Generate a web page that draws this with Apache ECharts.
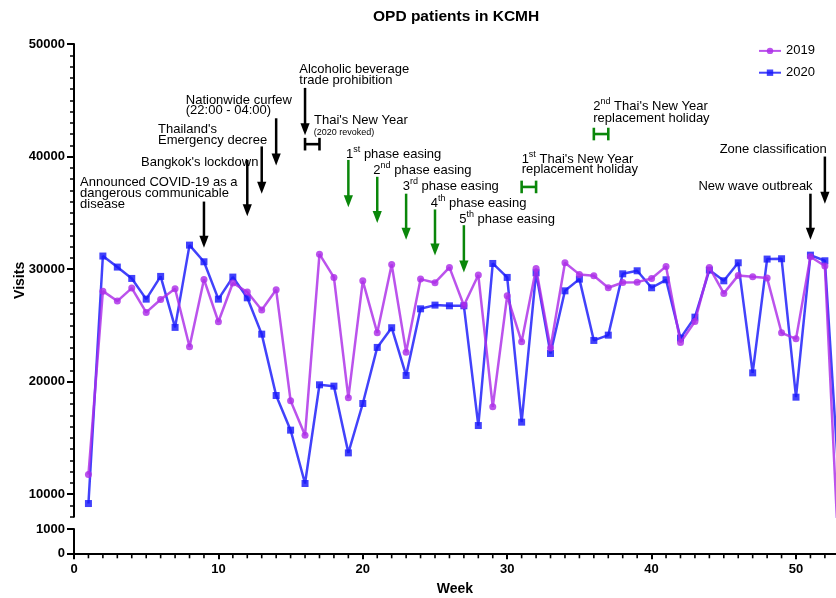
<!DOCTYPE html>
<html><head><meta charset="utf-8">
<script src="https://cdn.jsdelivr.net/npm/echarts@6/dist/echarts.min.js"></script>
<style>html,body{margin:0;padding:0;background:#fff}#c{width:836px;height:598px}</style>
</head><body><div id="c"></div>
<script>
const weeks = [1,2,3,4,5,6,7,8,9,10,11,12,13,14,15,16,17,18,19,20,21,22,23,24,25,26,27,28,29,30,31,32,33,34,35,36,37,38,39,40,41,42,43,44,45,46,47,48,49,50,51,52,53];
const visits2019 = [11750,28040,27160,28310,26150,27300,28250,23100,29080,25320,28760,27960,26360,28160,18300,15240,31330,29260,18560,28960,24340,30410,22620,29110,28790,30150,26770,29470,17760,27630,23540,30060,23000,30560,29530,29410,28340,28810,28840,29170,30240,23480,25350,30150,27840,29440,29320,29200,24340,23800,31100,30270,3300];
const visits2020 = [9170,31160,30180,29170,27330,29350,24820,32130,30650,27330,29290,27450,24220,18770,15690,10950,19720,19600,13670,18060,23040,24790,20550,26470,26800,26740,26740,16100,30500,29260,16400,29670,22500,28070,29110,23660,24130,29580,29850,28340,29050,23870,25730,29910,28960,30560,20780,30890,30920,18620,31240,30740,10500];
const seriesNames = ['2019', '2020'];
const xMajorTicks = [0,10,20,30,40,50];
const xMinorTicks = [1,2,3,4,5,6,7,8,9,11,12,13,14,15,16,17,18,19,21,22,23,24,25,26,27,28,29,31,32,33,34,35,36,37,38,39,41,42,43,44,45,46,47,48,49,51,52];
const yUpperTicks = [10000,20000,30000,40000,50000];
const yLowerTicks = [0,1000];
// event arrows: [week, start value, tip value, kind (0 = measure, 1 = easing)]
const eventArrows = [
  [9, 36000, 31900, 0], [12, 39700, 34700, 0], [13, 40900, 36700, 0], [14, 43400, 39200, 0],
  [16, 46100, 41900, 0], [51, 36700, 32600, 0], [52, 40000, 35800, 0],
  [19, 39700, 35500, 1], [21, 38200, 34100, 1], [23, 36700, 32600, 1], [25, 35300, 31200, 1], [27, 33900, 29700, 1]
];
// holiday spans: [start week, end week, value, kind]
const holidayBars = [[16, 17, 41100, 0], [31, 32, 37300, 1], [36, 37, 42000, 1]];
// notes: [week, value, text, align, small]
const noteTexts = [
  [0.42, 37670, 'Announced COVID-19 as a', 'left', 0],
  [0.42, 36730, 'dangerous communicable', 'left', 0],
  [0.42, 35780, 'disease', 'left', 0],
  [4.64, 39450, "Bangkok's lockdown", 'left', 0],
  [5.82, 42420, "Thailand's", 'left', 0],
  [5.82, 41470, 'Emergency decree', 'left', 0],
  [7.74, 45020, 'Nationwide curfew', 'left', 0],
  [7.74, 44070, '(22:00 - 04:00)', 'left', 0],
  [15.60, 47780, 'Alcoholic beverage', 'left', 0],
  [15.60, 46800, 'trade prohibition', 'left', 0],
  [16.62, 43180, "Thai's New Year", 'left', 0],
  [16.60, 42150, '(2020 revoked)', 'left', 1],
  [18.84, 40200, '1{s|st} phase easing', 'left', 0],
  [20.73, 38800, '2{s|nd} phase easing', 'left', 0],
  [22.76, 37320, '3{s|rd} phase easing', 'left', 0],
  [24.70, 35840, '4{s|th} phase easing', 'left', 0],
  [26.68, 34420, '5{s|th} phase easing', 'left', 0],
  [31.00, 39730, "1{s|st} Thai's New Year", 'left', 0],
  [31.00, 38840, 'replacement holiday', 'left', 0],
  [35.96, 44430, "2{s|nd} Thai's New Year", 'left', 0],
  [35.96, 43360, 'replacement holiday', 'left', 0],
  [52.12, 40640, 'Zone classification', 'right', 0],
  [51.15, 37380, 'New wave outbreak', 'right', 0]
];

const FONT = '"Liberation Sans", Arial, Helvetica, sans-serif';
const PURPLE = 'rgba(172, 45, 232, 0.82)';
const BLUE = 'rgba(25, 25, 250, 0.82)';
const KIND_COLORS = ['#000000', '#0a870a'];
const X_MAX = 52.77;

const chart = echarts.init(document.getElementById('c'), null, {renderer: 'canvas'});
const axisLineStyle = {color: '#000', width: 2};
const labelStyle = {color: '#000', fontFamily: FONT, fontWeight: 'bold', fontSize: 13, formatter: v => String(v)};

const option = {
  backgroundColor: '#fff',
  animation: false,
  title: {
    text: 'OPD patients in KCMH', left: 373, top: 9, padding: 0,
    textStyle: {fontFamily: FONT, fontWeight: 'bold', fontSize: 15.5, color: '#000'}
  },
  legend: {
    data: seriesNames, orient: 'vertical', left: 758, top: 44.4, padding: 0,
    itemWidth: 22, itemHeight: 8, itemGap: 8.8,
    textStyle: {fontFamily: FONT, fontSize: 13, color: '#000'}
  },
  grid: [
    {left: 74, right: 0, top: 44, height: 472.7, containLabel: false, outerBoundsMode: 'none'},
    {left: 74, right: 0, top: 529, height: 24.3, containLabel: false, outerBoundsMode: 'none'}
  ],
  xAxis: [
    {gridIndex: 0, type: 'value', min: 0, max: X_MAX, show: false},
    {gridIndex: 1, type: 'value', min: 0, max: X_MAX, position: 'bottom',
      axisLine: {lineStyle: axisLineStyle},
      axisTick: {customValues: xMajorTicks, length: 6, lineStyle: {width: 2, color: '#000'}},
      axisLabel: Object.assign({customValues: xMajorTicks, margin: 10}, labelStyle),
      minorTick: {show: false},
      splitLine: {show: false},
      name: 'Week', nameLocation: 'middle', nameGap: 29, nameMoveOverlap: false,
      nameTextStyle: {fontFamily: FONT, fontWeight: 'bold', fontSize: 14, color: '#000'}
    }
  ],
  yAxis: [
    {gridIndex: 0, type: 'value', min: 8000, max: 50000, position: 'left',
      axisLine: {show: true, lineStyle: axisLineStyle},
      axisTick: {show: true, customValues: yUpperTicks, length: 7, lineStyle: {width: 2, color: '#000'}},
      axisLabel: Object.assign({customValues: yUpperTicks, margin: 9}, labelStyle),
      splitLine: {show: false},
      name: 'Visits', nameLocation: 'middle', nameGap: 47, nameMoveOverlap: false,
      nameTextStyle: {fontFamily: FONT, fontWeight: 'bold', fontSize: 14, color: '#000'}
    },
    {gridIndex: 0, type: 'value', min: 8000, max: 50000, interval: 1000, position: 'left',
      axisLine: {show: false},
      axisTick: {show: true, length: 4, lineStyle: {width: 1.5, color: '#000'}},
      axisLabel: {show: false}, splitLine: {show: false}
    },
    {gridIndex: 1, type: 'value', min: 0, max: 1000, interval: 1000, position: 'left',
      axisLine: {show: true, lineStyle: axisLineStyle},
      axisTick: {show: true, length: 7, lineStyle: {width: 2, color: '#000'}},
      axisLabel: Object.assign({customValues: yLowerTicks, margin: 9}, labelStyle),
      splitLine: {show: false}
    }
  ],
  series: [
    {
      name: seriesNames[0], type: 'line', xAxisIndex: 0, yAxisIndex: 0, z: 4,
      data: weeks.map((w, i) => [w, visits2019[i]]),
      symbol: 'circle', symbolSize: 7, clip: true,
      itemStyle: {color: PURPLE}, lineStyle: {color: PURPLE, width: 2.5}
    },
    {
      name: seriesNames[1], type: 'line', xAxisIndex: 0, yAxisIndex: 0, z: 3,
      data: weeks.map((w, i) => [w, visits2020[i]]),
      symbol: 'rect', symbolSize: 7, clip: true,
      itemStyle: {color: BLUE}, lineStyle: {color: BLUE, width: 2.5}
    },
    {
      // minor week ticks on the x axis, placed through the lower grid's scales
      type: 'custom', xAxisIndex: 1, yAxisIndex: 2, silent: true, z: 5,
      data: xMinorTicks.map(w => [w, 0]),
      renderItem: (params, api) => {
        const p = api.coord([api.value(0), 0]);
        return {type: 'line', shape: {x1: p[0], y1: p[1], x2: p[0], y2: p[1] + 5}, style: {stroke: '#000', lineWidth: 1.6}};
      }
    },
    {
      type: 'custom', xAxisIndex: 0, yAxisIndex: 0, silent: true, z: 5,
      data: eventArrows,
      renderItem: (params, api) => {
        const a = eventArrows[params.dataIndex];
        const p0 = api.coord([a[0], a[1]]);
        const p1 = api.coord([a[0], a[2]]);
        const col = KIND_COLORS[a[3]];
        return {type: 'group', children: [
          {type: 'line', shape: {x1: p0[0], y1: p0[1], x2: p1[0], y2: p1[1] - 9}, style: {stroke: col, lineWidth: 2.5}},
          {type: 'polygon', shape: {points: [[p1[0] - 4.6, p1[1] - 12], [p1[0] + 4.6, p1[1] - 12], [p1[0], p1[1]]]}, style: {fill: col}}
        ]};
      }
    },
    {
      type: 'custom', xAxisIndex: 0, yAxisIndex: 0, silent: true, z: 5,
      data: holidayBars,
      renderItem: (params, api) => {
        const h = holidayBars[params.dataIndex];
        const p0 = api.coord([h[0], h[2]]);
        const p1 = api.coord([h[1], h[2]]);
        const col = KIND_COLORS[h[3]];
        const st = {stroke: col, lineWidth: 2.6};
        return {type: 'group', children: [
          {type: 'line', shape: {x1: p0[0], y1: p0[1], x2: p1[0], y2: p1[1]}, style: st},
          {type: 'line', shape: {x1: p0[0], y1: p0[1] - 6.3, x2: p0[0], y2: p0[1] + 6.3}, style: st},
          {type: 'line', shape: {x1: p1[0], y1: p1[1] - 6.3, x2: p1[0], y2: p1[1] + 6.3}, style: st}
        ]};
      }
    },
    {
      type: 'custom', xAxisIndex: 0, yAxisIndex: 0, silent: true, z: 6,
      data: noteTexts.map(n => [n[0], n[1]]),
      renderItem: (params, api) => {
        const n = noteTexts[params.dataIndex];
        const p = api.coord([n[0], n[1]]);
        return {type: 'text', x: p[0], y: p[1], style: {
          text: n[2], fill: '#000', fontFamily: FONT,
          fontSize: n[4] ? 9 : 13, lineHeight: n[4] ? 10 : 19,
          align: n[3], verticalAlign: 'middle',
          rich: {s: {fontSize: 9, lineHeight: 9, verticalAlign: 'top', fontFamily: FONT, fill: '#000'}}
        }};
      }
    }
  ]
};
chart.setOption(option);
</script></body></html>
